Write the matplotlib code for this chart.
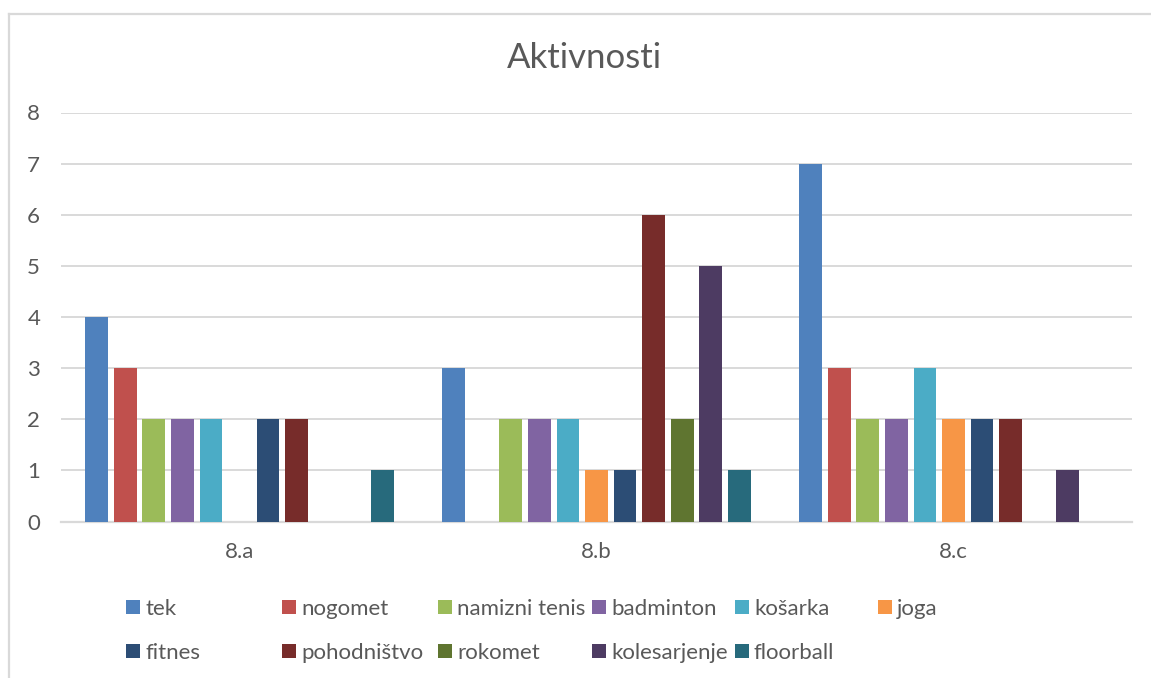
import numpy as np
import matplotlib
matplotlib.use("Agg")
import matplotlib.pyplot as plt
from matplotlib.patches import Rectangle
from matplotlib.lines import Line2D

# === data ===
groups = ["8.a", "8.b", "8.c"]
series = ["tek", "nogomet", "namizni tenis", "badminton", "košarka", "joga",
          "fitnes", "pohodništvo", "rokomet", "kolesarjenje", "floorball"]
tek = [4, 3, 7]
nogomet = [3, 0, 3]
namizni_tenis = [2, 2, 2]
badminton = [2, 2, 2]
kosarka = [2, 2, 3]
joga = [0, 1, 2]
fitnes = [2, 1, 2]
pohodnistvo = [2, 6, 2]
rokomet = [0, 2, 0]
kolesarjenje = [0, 5, 1]
floorball = [1, 1, 0]
values = [tek, nogomet, namizni_tenis, badminton, kosarka, joga,
          fitnes, pohodnistvo, rokomet, kolesarjenje, floorball]
colors = ["#4F81BD", "#C0504D", "#9BBB59", "#8064A2", "#4BACC6", "#F79646",
          "#2C4D75", "#772C2A", "#5F7530", "#4D3B62", "#276A7C"]

TXT = "#595959"
GRID = "#D9D9D9"
plt.rcParams["font.family"] = ["Lato", "DejaVu Sans"]

W, H = 1151, 678
fig = plt.figure(figsize=(W / 100, H / 100), dpi=100)
ax = fig.add_axes([61 / W, 1 - 521.5 / H, (1132 - 61) / W, (521.5 - 112.5) / H])

x = np.arange(len(groups))
pitch = 0.08
bw = 0.064
for i, (name, vals, c) in enumerate(zip(series, values, colors)):
    ax.bar(x + (i - 5) * pitch, vals, width=bw, color=c, label=name, zorder=3)

ax.set_xlim(-0.5, 2.5)
ax.set_ylim(0, 8)
ax.set_yticks(range(0, 9))
ax.set_xticks(x)
ax.set_xticklabels(groups)
ax.tick_params(axis="both", length=0, labelsize=16, labelcolor=TXT)
ax.tick_params(axis="y", pad=15)
ax.tick_params(axis="x", pad=15)
ax.grid(axis="y", color=GRID, linewidth=1.4, zorder=0)
for s in ["left", "right", "top"]:
    ax.spines[s].set_visible(False)
ax.spines["bottom"].set_color(GRID)
ax.spines["bottom"].set_linewidth(1.6)

fig.text(584 / W, 1 - 58 / H, "Aktivnosti", ha="center", va="center",
         fontsize=25, color=TXT)

# outer chart frame (cropped on the right and bottom)
fig.add_artist(Line2D([9 / W, 9 / W], [0, 1 - 14 / H], color=GRID, linewidth=1.6))
fig.add_artist(Line2D([9 / W, 1], [1 - 14 / H, 1 - 14 / H], color=GRID, linewidth=1.6))

# legend laid out like Excel's
col_x = [126, 282, 438, 592, 735, 878]
row_y = [607, 651]
for i, (name, c) in enumerate(zip(series, colors)):
    r, k = divmod(i, 6)
    x0, y0 = col_x[k], row_y[r]
    fig.add_artist(Rectangle((x0 / W, 1 - (y0 + 7) / H), 14 / W, 14 / H,
                             transform=fig.transFigure, color=c, linewidth=0))
    fig.text((x0 + 19) / W, 1 - y0 / H, name, ha="left", va="center_baseline",
             fontsize=16, color=TXT)

fig.savefig("out.png", dpi=100)
